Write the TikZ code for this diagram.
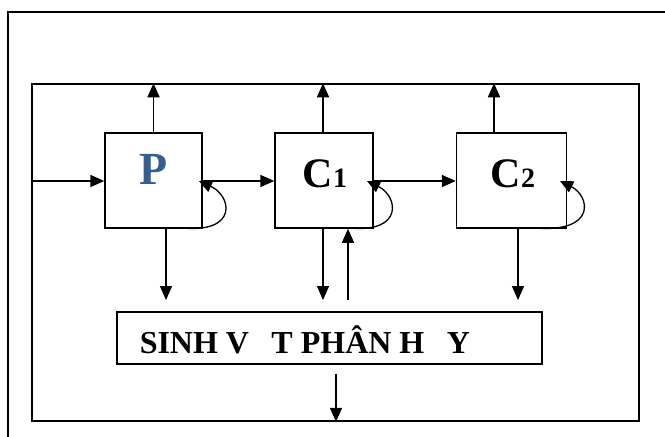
\documentclass[tikz,border=0pt]{standalone}
\usepackage{fontspec}
\setmainfont{Liberation Serif}
\usetikzlibrary{arrows.meta}
\definecolor{pblue}{RGB}{54,95,145}
\begin{document}
\begin{tikzpicture}[x=1pt,y=-1pt,
  line width=1.5pt,
  arr/.style={-{Triangle[length=14pt,width=12pt]}},
  loop/.style={-{Triangle[length=13pt,width=12pt]}, line width=1.3pt},
  blk/.style={draw, line width=1.5pt, minimum height=95pt, inner sep=0pt},
  lbl/.style={inner sep=0pt, anchor=base west, font=\bfseries}]
\useasboundingbox (0,0) rectangle (665,437);
% outer frame (left and top edges only)
\draw[line width=1.6pt] (8,437) -- (8,12) -- (665,12);
% inner frame
\node[draw, line width=1.5pt, minimum width=607pt, minimum height=337pt, inner sep=0pt] (frame) at (335.5,252.5) {};
% boxes
\node[blk, minimum width=97pt] (P) at (153.5,180.5) {};
\node[blk, minimum width=98pt] (C1) at (324,180.5) {};
\node[blk, minimum width=110pt] (C2) at (511.5,180.5) {};
\node[draw, line width=1.2pt, minimum width=425pt, minimum height=52pt, inner sep=0pt] (D) at (329.5,338) {};
% labels
\node[inner sep=0pt, anchor=base, font=\bfseries\fontsize{46}{46}\selectfont, text=pblue] (tP) at (154,184) {P};
\node[lbl, font=\bfseries\fontsize{42}{42}\selectfont] (tC1) at (302,187) {C{\fontsize{28}{28}\selectfont 1}};
\node[lbl, font=\bfseries\fontsize{42}{42}\selectfont] (tC2) at (490,187) {C{\fontsize{28}{28}\selectfont 2}};
\node[lbl, font=\bfseries\fontsize{32}{32}\selectfont] (tD) at (139,353) {SINH V\hspace{0.7em}T PHÂN H\hspace{0.7em}Y};
% coordinates
\coordinate (dt) at (0,300);
\coordinate (inP) at (32,181);
% up arrows to frame
\draw[arr] (P.north) -- (P.north |- frame.north);
\draw[arr] ([xshift=-1pt]C1.north) -- ([xshift=-1pt]C1.north |- frame.north);
\draw[arr] ([xshift=-17.5pt]C2.north) -- ([xshift=-17.5pt]C2.north |- frame.north);
% horizontal flow
\draw[arr] (inP) -- (inP -| P.west);
\draw[arr] (P.east |- inP) -- (C1.west |- inP);
\draw[arr] (C1.east |- inP) -- (C2.west |- inP);
% down arrows to decomposers
\draw[arr] ([xshift=12.5pt]P.south) -- ([xshift=12.5pt]P.south |- dt);
\draw[arr] ([xshift=-1pt]C1.south) -- ([xshift=-1pt]C1.south |- dt);
\draw[arr] ([xshift=24pt]C1.south |- dt) -- ([xshift=24pt]C1.south);
\draw[arr] ([xshift=6.5pt]C2.south) -- ([xshift=6.5pt]C2.south |- dt);
\draw[arr] ([xshift=6.5pt]D.south) ++(0,9) -- ([xshift=6.5pt]D.south |- frame.south);
% self loops
\draw[loop] (183,228) .. controls (238,233) and (232,196) .. (199,181);
\draw[loop] (350,228) .. controls (404,233) and (398,196) .. (367,181);
\draw[loop] (535,228) .. controls (597,233) and (590,196) .. (560,181);
\end{tikzpicture}
\end{document}
